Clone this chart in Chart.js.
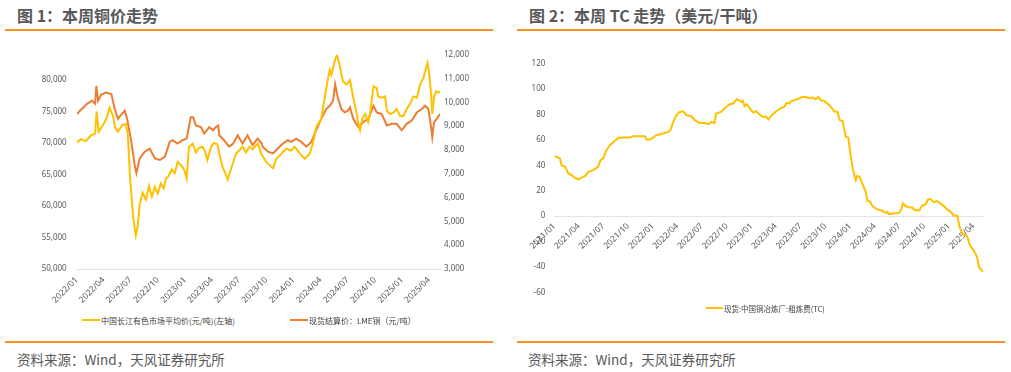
<!DOCTYPE html>
<html>
<head>
<meta charset="utf-8">
<script src="https://cdn.jsdelivr.net/npm/chart.js@4.4.1/dist/chart.umd.min.js"></script>
<style>
  body { margin: 0; width: 1011px; height: 372px; background: #fff; position: relative; overflow: hidden;
         font-family: "Noto Sans CJK SC", sans-serif; }
  .title { position: absolute; top: 3px; font-size: 16px; font-weight: bold; color: #595959; white-space: nowrap; }
  .rule { position: absolute; height: 2px; background: #F7941D; }
  .src { position: absolute; top: 349px; font-size: 13.5px; color: #595959; white-space: nowrap; }
  .box { position: absolute; }
  .lg { position: absolute; font-size: 8px; color: #404040; display: flex; align-items: center; white-space: nowrap; height: 12px; }
  .lg i { display: inline-block; width: 18px; height: 2px; margin-right: 1px; }
</style>
</head>
<body>
<div class="title" style="left:17px">图 1：本周铜价走势</div>
<div class="title" style="left:529px">图 2：本周 TC 走势（美元/干吨）</div>
<div class="rule" style="left:5px;width:488px;top:29px"></div>
<div class="rule" style="left:517px;width:488px;top:29px"></div>

<div class="box" style="left:0;top:40px"><canvas id="copperChart" width="500" height="270"></canvas></div>
<div class="box" style="left:510px;top:50px"><canvas id="tcChart" width="500" height="260"></canvas></div>

<div class="lg" style="left:82px;top:314px"><i style="background:#FFC000"></i>中国长江有色市场平均价(元/吨)(左轴)</div>
<div class="lg" style="left:290px;top:314px"><i style="background:#ED7D31"></i>现货结算价：LME铜（元/吨）</div>
<div class="lg" style="left:706px;top:302px;font-size:7.5px"><i style="background:#FFC000;width:17px"></i>现货:中国铜冶炼厂:粗炼费(TC)</div>

<div class="rule" style="left:5px;width:488px;top:341px"></div>
<div class="rule" style="left:517px;width:488px;top:341px"></div>
<div class="src" style="left:17px">资料来源：Wind，天风证券研究所</div>
<div class="src" style="left:528px">资料来源：Wind，天风证券研究所</div>

<script>
// --- Chart 1: copper prices ---
const cjDates = [
  '2022-01-02','2022-01-15','2022-02-01','2022-02-18','2022-03-04','2022-03-09','2022-03-16','2022-03-30',
  '2022-04-12','2022-04-22','2022-05-03','2022-05-10','2022-05-20','2022-06-02','2022-06-15','2022-06-22',
  '2022-06-29','2022-07-10','2022-07-19','2022-07-26','2022-08-01','2022-08-11','2022-08-22','2022-09-01',
  '2022-09-11','2022-09-21','2022-10-01','2022-10-11','2022-10-21','2022-10-28','2022-11-07','2022-11-17',
  '2022-11-27','2022-12-07','2022-12-23','2022-12-31','2023-01-06','2023-01-14','2023-01-27','2023-02-06',
  '2023-02-16','2023-03-01','2023-03-08','2023-03-17','2023-03-29','2023-04-08','2023-04-20','2023-04-26',
  '2023-05-07','2023-05-18','2023-05-24','2023-06-04','2023-06-21','2023-07-02','2023-07-14','2023-07-25',
  '2023-08-05','2023-08-16','2023-08-27','2023-09-03','2023-09-14','2023-10-01','2023-10-18','2023-10-24',
  '2023-11-04','2023-11-21','2023-12-07','2023-12-24','2024-01-05','2024-01-22','2024-02-08','2024-02-24',
  '2024-03-06','2024-03-17','2024-04-03','2024-04-15','2024-04-26','2024-05-02','2024-05-07','2024-05-18',
  '2024-05-26','2024-06-04','2024-06-15','2024-06-27','2024-07-09','2024-07-20','2024-08-01','2024-08-06',
  '2024-08-12','2024-08-19','2024-08-29','2024-09-08','2024-09-14','2024-09-26','2024-10-07','2024-10-12',
  '2024-10-24','2024-11-04','2024-11-10','2024-11-21','2024-12-02','2024-12-13','2024-12-25','2025-01-05',
  '2025-01-16','2025-01-27','2025-02-07','2025-02-19','2025-03-02','2025-03-13','2025-03-22','2025-03-27',
  '2025-04-02','2025-04-08','2025-04-12','2025-04-18','2025-04-25','2025-05-03','2025-05-08'
];
const cjPrices = [
  70100,70600,70300,71200,71500,75000,71800,72800,
  74000,75600,74300,72500,71800,72800,73000,71500,
  65000,58200,55300,57000,60300,62100,61000,63200,
  61500,63000,62000,63600,62800,64300,64800,65800,
  65200,67000,66200,65500,64400,69400,69900,68500,
  69200,69400,68800,67300,69400,70000,69800,68300,
  66200,65000,64200,65800,68300,68800,69400,68500,
  69400,69000,69600,69900,68300,67000,66250,66000,
  67500,68300,69100,68800,69400,68300,67500,68300,
  69900,72500,73800,77200,80300,81600,80800,82900,
  84000,82400,79800,79300,80000,77200,74600,73000,
  72000,73800,74600,73300,74500,79000,78700,77400,
  77200,77400,75100,74600,74800,75400,74300,74300,
  75400,76200,77400,77200,79300,80300,81900,82700,
  80800,77700,74600,77400,78200,78000,78200
];
const lmeDates = [
  '2022-01-03','2022-01-12','2022-02-04','2022-02-21','2022-03-04','2022-03-08','2022-03-14','2022-03-25',
  '2022-04-11','2022-04-28','2022-05-09','2022-05-20','2022-06-01','2022-06-12','2022-06-21','2022-07-04',
  '2022-07-15','2022-07-21','2022-08-01','2022-08-18','2022-09-04','2022-09-21','2022-10-08','2022-10-25',
  '2022-11-10','2022-11-20','2022-12-06','2022-12-23','2023-01-06','2023-01-20','2023-01-28','2023-02-06',
  '2023-02-23','2023-03-06','2023-03-23','2023-04-05','2023-04-14','2023-04-22','2023-04-26','2023-05-12',
  '2023-05-29','2023-06-12','2023-06-27','2023-07-13','2023-07-30','2023-08-16','2023-09-02','2023-09-16',
  '2023-09-19','2023-10-07','2023-10-24','2023-11-09','2023-11-26','2023-12-13','2023-12-24','2024-01-10',
  '2024-01-27','2024-02-13','2024-03-01','2024-03-17','2024-04-03','2024-04-20','2024-05-02','2024-05-13',
  '2024-05-20','2024-05-29','2024-06-10','2024-06-21','2024-07-02','2024-07-09','2024-07-20','2024-08-06',
  '2024-08-17','2024-08-29','2024-09-09','2024-09-26','2024-10-07','2024-10-24','2024-11-10','2024-11-27',
  '2024-12-13','2024-12-30','2025-01-16','2025-02-02','2025-02-19','2025-03-08','2025-03-19','2025-03-30',
  '2025-04-08','2025-04-12','2025-04-18','2025-04-27','2025-05-08'
];
const lmePrices = [
  9510,9650,9930,10070,9950,10690,10070,10340,
  10410,10340,9720,9310,9510,9650,9240,8340,
  7380,7030,7650,7930,8060,7650,7580,7720,
  8340,8410,8270,8410,8480,9380,9380,9030,
  8960,8690,8960,8830,8960,9030,8620,8410,
  8140,8270,8620,8270,8620,8200,8480,8270,
  8140,7930,7860,8060,8270,8410,8340,8480,
  8340,8140,8340,8830,9310,9720,9860,10070,
  10760,10200,9720,9580,9650,9790,9310,8960,
  9100,9240,9310,9860,9580,9510,9030,9100,
  9100,8830,9100,9240,9580,9720,9860,9720,
  8960,8550,9170,9310,9510
];
const copperTickLabels = ['2022/01','2022/04','2022/07','2022/10','2023/01','2023/04','2023/07',
  '2023/10','2024/01','2024/04','2024/07','2024/10','2025/01','2025/04'];
const cjAxisTicks = [50000, 55000, 60000, 65000, 70000, 75000, 80000];
const lmeAxisTicks = [3000, 4000, 5000, 6000, 7000, 8000, 9000, 10000, 11000, 12000];

// --- Chart 2: TC ---
const tcDates = [
  '2021-01-01','2021-01-10','2021-01-22','2021-01-28','2021-02-10','2021-02-22','2021-03-06','2021-03-18',
  '2021-03-31','2021-04-12','2021-04-24','2021-05-07','2021-05-25','2021-06-12','2021-06-21','2021-07-01',
  '2021-07-13','2021-07-26','2021-08-13','2021-08-26','2021-09-13','2021-10-08','2021-10-20','2021-11-14',
  '2021-12-02','2021-12-08','2021-12-20','2022-01-02','2022-01-14','2022-02-08','2022-02-26','2022-03-07',
  '2022-03-17','2022-03-29','2022-04-10','2022-04-23','2022-05-05','2022-05-23','2022-06-05','2022-06-23',
  '2022-07-11','2022-07-27','2022-08-05','2022-08-17','2022-08-23','2022-09-11','2022-09-29','2022-10-12',
  '2022-10-24','2022-11-08','2022-11-24','2022-11-30','2022-12-06','2022-12-14','2022-12-24','2023-01-06',
  '2023-01-18','2023-01-30','2023-02-11','2023-02-24','2023-03-05','2023-03-20','2023-04-08','2023-04-20',
  '2023-05-02','2023-05-11','2023-05-21','2023-05-27','2023-06-14','2023-06-27','2023-07-07','2023-07-21',
  '2023-08-03','2023-08-15','2023-08-27','2023-09-05','2023-09-15','2023-09-27','2023-10-09','2023-10-22',
  '2023-11-03','2023-11-15','2023-11-24','2023-12-04','2023-12-16','2023-12-25','2024-01-04','2024-01-12',
  '2024-01-22','2024-01-28','2024-02-06','2024-02-15','2024-02-28','2024-03-05','2024-03-13','2024-03-26',
  '2024-04-11','2024-04-29','2024-05-12','2024-05-18','2024-05-24','2024-06-11','2024-06-30','2024-07-06',
  '2024-07-15','2024-07-24','2024-08-06','2024-08-18','2024-08-27','2024-09-14','2024-09-22','2024-10-07',
  '2024-10-15','2024-10-25','2024-11-06','2024-11-19','2024-12-01','2024-12-13','2024-12-25','2025-01-07',
  '2025-01-19','2025-02-01','2025-02-09','2025-02-19','2025-03-04','2025-03-10','2025-03-19','2025-03-28',
  '2025-04-10','2025-04-16','2025-04-22','2025-05-01','2025-05-08'
];
const tcValues = [
  47.2,46.7,45.4,40.1,38.8,33.6,32.3,30.4,
  28.9,30.4,31.5,34.9,36.2,38.8,44.1,45.4,
  51.9,55.9,59.3,61.6,61.9,61.9,63.0,63.0,
  63.0,60.4,60.4,61.9,63.7,65.1,66.3,67.7,
  74.2,79.5,82.1,82.6,79.5,78.7,75.6,73.4,
  73.4,72.4,74.2,73.4,80.8,82.1,86.0,88.1,
  88.7,92.1,90.0,90.8,86.6,88.1,85.5,81.6,
  82.6,80.3,78.2,78.2,76.1,80.3,83.4,85.2,
  86.0,89.2,88.7,90.5,91.8,92.6,93.9,93.9,
  93.1,93.4,92.1,93.9,91.3,90.8,88.7,86.0,
  82.6,82.1,75.6,75.0,62.4,61.9,46.7,36.2,
  28.3,31.7,30.9,25.7,19.1,12.0,11.8,7.3,
  5.3,4.2,2.6,3.4,1.6,2.1,2.6,4.2,
  10.0,8.1,6.8,6.8,4.7,4.7,7.9,9.4,
  13.1,13.4,11.0,11.8,10.0,7.9,5.3,3.4,
  0.3,0.3,-8.4,-13.6,-15.0,-16.3,-22.8,-25.4,
  -29.9,-33.3,-39.9,-42.5,-43.8
];
const tcTickLabels = ['2021/01','2021/04','2021/07','2021/10','2022/01','2022/04','2022/07','2022/10',
  '2023/01','2023/04','2023/07','2023/10','2024/01','2024/04','2024/07','2024/10','2025/01','2025/04'];
const tcAxisTicks = [-60, -40, -20, 0, 20, 40, 60, 80, 100, 120];

// --- Helpers ---
const DAY = 86400000;
function dayNum(s) {
  const p = s.split(/[-\/]/).map(Number);
  return Date.UTC(p[0], p[1] - 1, p[2] || 1) / DAY;
}
function toPoints(dates, values) {
  return dates.map((d, i) => ({ x: dayNum(d), y: values[i] }));
}
function fixedTicks(values) {
  return axis => { axis.ticks = values.map(v => ({ value: v })); };
}
function labelFor(labels) {
  const map = {};
  labels.forEach(l => { map[dayNum(l)] = l; });
  return v => map[v] || '';
}

const axisFont = { family: "'Noto Sans', sans-serif", size: 8 };
const axisColor = '#595959';

// --- Copper price chart ---
new Chart(document.getElementById('copperChart'), {
  type: 'line',
  data: {
    datasets: [
      {
        label: '中国长江有色市场平均价(元/吨)(左轴)',
        data: toPoints(cjDates, cjPrices),
        borderColor: '#FFC000', borderWidth: 2, pointRadius: 0, tension: 0, yAxisID: 'y'
      },
      {
        label: '现货结算价：LME铜（元/吨）',
        data: toPoints(lmeDates, lmePrices),
        borderColor: '#ED7D31', borderWidth: 2, pointRadius: 0, tension: 0, yAxisID: 'y1'
      }
    ]
  },
  options: {
    responsive: false,
    animation: false,
    layout: { padding: { top: 11.7, left: 0, right: 0, bottom: 0 } },
    plugins: { legend: { display: false }, tooltip: { enabled: false } },
    scales: {
      x: {
        type: 'linear',
        min: dayNum(cjDates[0]) - 1,
        max: dayNum(cjDates[cjDates.length - 1]),
        afterBuildTicks: fixedTicks(copperTickLabels.map(dayNum)),
        afterFit: s => { s.height = 41; },
        grid: { display: false, drawTicks: false },
        border: { display: true, color: '#e3e3e3', width: 1 },
        ticks: { callback: labelFor(copperTickLabels), minRotation: 45, maxRotation: 45,
                 autoSkip: false, padding: 6, color: axisColor, font: { ...axisFont, size: 8.5 } }
      },
      y: {
        position: 'left',
        min: 50000, max: 84000,
        afterBuildTicks: fixedTicks(cjAxisTicks),
        afterFit: s => { s.width = 76.7; },
        grid: { display: false, drawTicks: false },
        border: { display: false },
        ticks: { callback: v => v.toLocaleString('en-US'), padding: 10, color: axisColor, font: axisFont }
      },
      y1: {
        position: 'right',
        min: 3000, max: 12000,
        afterBuildTicks: fixedTicks(lmeAxisTicks),
        afterFit: s => { s.width = 60; },
        grid: { display: false, drawTicks: false },
        border: { display: false },
        ticks: { callback: v => v.toLocaleString('en-US'), padding: 4, color: axisColor, font: axisFont }
      }
    }
  }
});

// --- TC chart ---
new Chart(document.getElementById('tcChart'), {
  type: 'line',
  data: {
    datasets: [{
      label: '现货:中国铜冶炼厂:粗炼费(TC)',
      data: toPoints(tcDates, tcValues),
      borderColor: '#FFC000', borderWidth: 2, pointRadius: 0, tension: 0
    }]
  },
  options: {
    responsive: false,
    animation: false,
    layout: { padding: { top: 13.3, left: 0, right: 26.7, bottom: 17.7 } },
    plugins: { legend: { display: false }, tooltip: { enabled: false } },
    scales: {
      x: {
        type: 'linear',
        position: { y: 0 },
        min: dayNum(tcDates[0]),
        max: dayNum(tcDates[tcDates.length - 1]),
        afterBuildTicks: fixedTicks(tcTickLabels.map(dayNum)),
        grid: { display: false, drawTicks: false },
        border: { display: true, color: '#e3e3e3', width: 1 },
        ticks: { callback: labelFor(tcTickLabels), minRotation: 45, maxRotation: 45,
                 autoSkip: false, padding: 5, color: axisColor, font: { ...axisFont, size: 8.5 } }
      },
      y: {
        min: -60, max: 120,
        afterBuildTicks: fixedTicks(tcAxisTicks),
        afterFit: s => { s.width = 44.3; },
        grid: { display: false, drawTicks: false },
        border: { display: false },
        ticks: { padding: 9, color: axisColor, font: axisFont }
      }
    }
  }
});
</script>
</body>
</html>
